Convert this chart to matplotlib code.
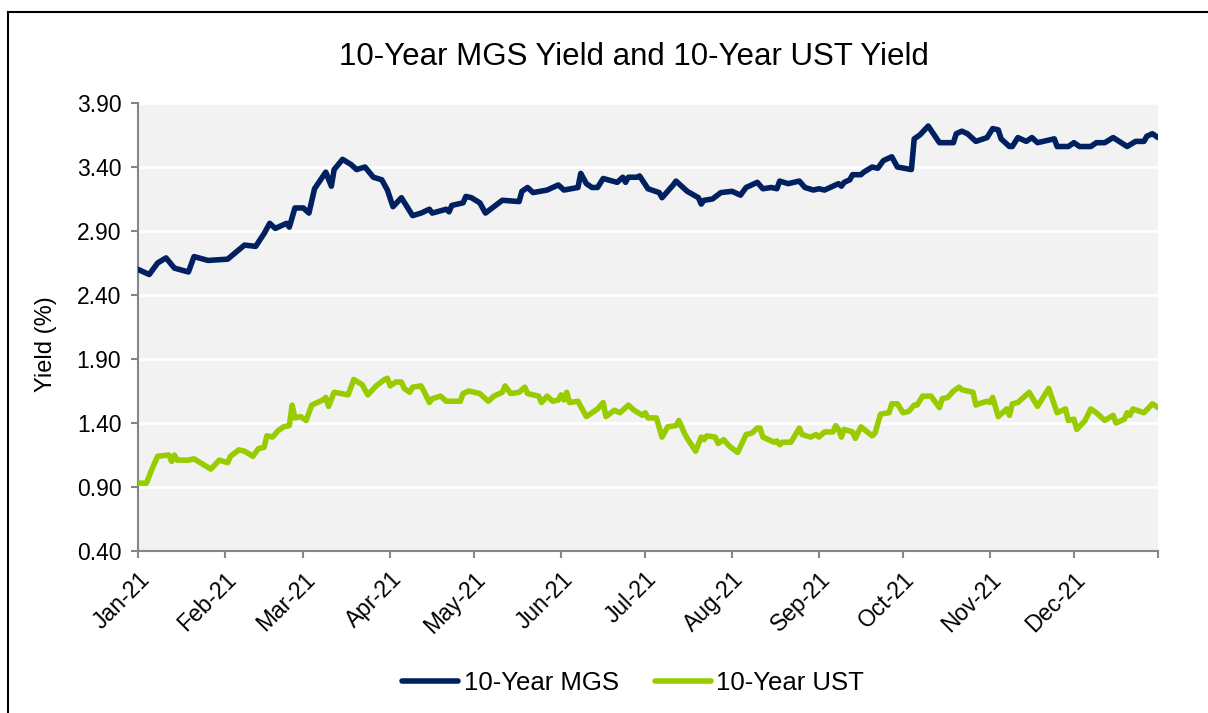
import matplotlib
matplotlib.use('Agg')
import matplotlib.pyplot as plt
import matplotlib.transforms as mtransforms
from matplotlib.lines import Line2D
import pandas as pd

plt.rcParams['font.family'] = ['Liberation Sans', 'DejaVu Sans']

# days since 1 Jan 2021
mgs_day = [0, 4, 7, 10, 13, 18, 20, 25, 32, 38, 42, 45, 47, 49, 53, 54, 56, 59, 61, 63,
           67, 69, 70, 73, 76, 78, 81, 84, 87, 89, 91, 94, 98, 101, 104, 105, 110, 111, 112, 116,
           117, 119, 122, 124, 127, 130, 136, 137, 139, 141, 146, 150, 152, 157, 158, 160, 162, 164, 166, 171,
           173, 174, 175, 178, 179, 182, 186, 187, 191, 192, 193, 196, 200, 201, 202, 205, 208, 212, 215, 217,
           221, 223, 226, 228, 229, 232, 236, 238, 241, 243, 245, 247, 250, 251, 252, 254, 255, 258, 259, 262,
           264, 266, 269, 271, 276, 277, 279, 282, 286, 291, 292, 294, 296, 299, 303, 305, 307, 308, 311, 312,
           314, 317, 319, 321, 327, 328, 332, 334, 336, 340, 342, 345, 348, 353, 356, 359, 360, 362, 364]
mgs_yield = [2.60, 2.56, 2.65, 2.69, 2.61, 2.58, 2.70, 2.67, 2.68, 2.79, 2.78, 2.88, 2.96, 2.92, 2.96, 2.93, 3.08, 3.08, 3.04, 3.23,
             3.36, 3.25, 3.38, 3.46, 3.42, 3.38, 3.40, 3.32, 3.30, 3.22, 3.09, 3.16, 3.02, 3.04, 3.07, 3.04, 3.07, 3.05, 3.10, 3.12,
             3.17, 3.16, 3.12, 3.04, 3.09, 3.14, 3.13, 3.21, 3.24, 3.20, 3.22, 3.26, 3.22, 3.24, 3.35, 3.27, 3.24, 3.24, 3.31, 3.28,
             3.32, 3.28, 3.32, 3.32, 3.33, 3.23, 3.20, 3.16, 3.26, 3.29, 3.27, 3.21, 3.16, 3.11, 3.14, 3.15, 3.20, 3.21, 3.18, 3.24,
             3.28, 3.23, 3.24, 3.23, 3.29, 3.27, 3.29, 3.24, 3.22, 3.23, 3.22, 3.24, 3.27, 3.25, 3.28, 3.30, 3.34, 3.34, 3.36, 3.40,
             3.39, 3.45, 3.48, 3.40, 3.38, 3.62, 3.65, 3.72, 3.59, 3.59, 3.66, 3.68, 3.66, 3.60, 3.63, 3.70, 3.69, 3.62, 3.56, 3.56,
             3.63, 3.60, 3.63, 3.59, 3.62, 3.56, 3.56, 3.59, 3.56, 3.56, 3.59, 3.59, 3.63, 3.56, 3.60, 3.60, 3.64, 3.66, 3.63]

ust_day = [0, 3, 5, 7, 11, 12, 13, 14, 18, 20, 26, 29, 32, 33, 36, 38, 41, 43, 45, 46,
           48, 50, 52, 54, 55, 56, 58, 60, 62, 66, 67, 68, 70, 75, 77, 80, 82, 85, 88, 89,
           90, 92, 94, 95, 97, 98, 101, 102, 104, 105, 108, 110, 115, 116, 118, 122, 125, 127, 130, 131,
           133, 136, 138, 139, 143, 144, 146, 148, 150, 151, 152, 153, 154, 157, 160, 164, 166, 167, 170, 172,
           173, 175, 177, 180, 181, 182, 185, 187, 189, 192, 193, 195, 196, 199, 201, 202, 203, 206, 207, 209,
           211, 214, 217, 219, 221, 222, 223, 227, 228, 229, 230, 233, 236, 237, 240, 242, 243, 245, 248, 249,
           250, 251, 252, 255, 256, 258, 262, 263, 265, 268, 269, 271, 273, 275, 277, 278, 280, 283, 286, 287,
           289, 291, 293, 294, 298, 299, 300, 303, 304, 305, 307, 310, 311, 312, 314, 318, 321, 325, 328, 331,
           332, 334, 335, 338, 340, 342, 345, 348, 349, 352, 353, 354, 355, 359, 362, 364]
ust_yield = [0.93, 0.93, 1.04, 1.14, 1.15, 1.10, 1.15, 1.11, 1.11, 1.12, 1.04, 1.11, 1.09, 1.14, 1.19, 1.18, 1.14, 1.20, 1.21, 1.30,
             1.29, 1.34, 1.37, 1.38, 1.54, 1.44, 1.45, 1.42, 1.54, 1.58, 1.60, 1.53, 1.64, 1.62, 1.74, 1.70, 1.62, 1.69, 1.74, 1.75,
             1.69, 1.72, 1.72, 1.67, 1.64, 1.68, 1.69, 1.65, 1.56, 1.59, 1.61, 1.57, 1.57, 1.63, 1.65, 1.63, 1.57, 1.61, 1.64, 1.69,
             1.63, 1.64, 1.68, 1.63, 1.61, 1.56, 1.61, 1.57, 1.58, 1.62, 1.58, 1.64, 1.56, 1.57, 1.45, 1.51, 1.56, 1.45, 1.50, 1.48,
             1.50, 1.54, 1.50, 1.46, 1.48, 1.44, 1.44, 1.29, 1.37, 1.38, 1.42, 1.32, 1.28, 1.18, 1.29, 1.27, 1.30, 1.29, 1.24, 1.27,
             1.22, 1.17, 1.31, 1.32, 1.36, 1.36, 1.29, 1.25, 1.26, 1.23, 1.25, 1.25, 1.36, 1.31, 1.29, 1.31, 1.29, 1.33, 1.33, 1.38,
             1.35, 1.29, 1.35, 1.33, 1.28, 1.37, 1.30, 1.32, 1.47, 1.48, 1.55, 1.55, 1.48, 1.49, 1.54, 1.54, 1.61, 1.61, 1.52, 1.59,
             1.60, 1.65, 1.68, 1.66, 1.64, 1.54, 1.55, 1.57, 1.56, 1.60, 1.45, 1.51, 1.46, 1.55, 1.56, 1.64, 1.53, 1.67, 1.48, 1.51,
             1.42, 1.43, 1.35, 1.42, 1.51, 1.48, 1.42, 1.46, 1.40, 1.43, 1.48, 1.46, 1.51, 1.48, 1.55, 1.52]

yticks = [0.40, 0.90, 1.40, 1.90, 2.40, 2.90, 3.40, 3.90]

start = pd.Timestamp('2021-01-01')
mgs_dates = start + pd.to_timedelta(mgs_day, unit='D')
ust_dates = start + pd.to_timedelta(ust_day, unit='D')

navy = '#002060'
lime = '#99CC00'
grey = '#868686'

fig = plt.figure(figsize=(12.08, 7.13), dpi=100)
ax = fig.add_axes([138/1208, 1 - 551/713, 1020/1208, 448/713])
ax.set_facecolor('#F2F2F2')

ax.plot(mgs_dates, mgs_yield, color=navy, lw=4, solid_capstyle='round', solid_joinstyle='round', zorder=3)
ax.plot(ust_dates, ust_yield, color=lime, lw=4, solid_capstyle='round', solid_joinstyle='round', zorder=3)

ax.set_ylim(0.40, 3.90)
ax.set_yticks(yticks)
ax.set_yticklabels(['%.2f' % v for v in yticks])
ax.yaxis.grid(True, color='white', lw=2)
ax.set_axisbelow(True)

ax.set_xlim(pd.Timestamp('2021-01-01'), pd.Timestamp('2021-12-31'))
months = pd.date_range('2021-01-01', '2021-12-01', freq='MS')
ax.set_xticks(list(months) + [pd.Timestamp('2021-12-31')])
ax.set_xticklabels([d.strftime('%b-%y') for d in months] + [''])
shift = mtransforms.ScaledTranslation(4/100, 0, fig.dpi_scale_trans)
for lab in ax.get_xticklabels():
    lab.set_rotation(45)
    lab.set_ha('right')
    lab.set_rotation_mode('anchor')
    lab.set_transform(lab.get_transform() + shift)

for s in ['top', 'right']:
    ax.spines[s].set_visible(False)
for s in ['left', 'bottom']:
    ax.spines[s].set_color(grey)
    ax.spines[s].set_linewidth(1.5)
ax.tick_params(axis='both', colors=grey, labelcolor='black', width=1.5, length=5, labelsize=16.5)
ax.tick_params(axis='y', pad=7)
ax.tick_params(axis='x', pad=7)

fig.text(0.5244, 1 - 57/713, '10-Year MGS Yield and 10-Year UST Yield', ha='center', va='center', fontsize=22.5)
fig.text(46/1208, 1 - 344/713, 'Yield (%)', rotation=90, ha='center', va='center', fontsize=17)

handles = [Line2D([], [], color=navy, lw=4, solid_capstyle='round'),
           Line2D([], [], color=lime, lw=4, solid_capstyle='round')]
fig.legend(handles, ['10-Year MGS', '10-Year UST'], loc='center', bbox_to_anchor=(633/1208, 1 - 683/713),
           ncol=2, frameon=False, fontsize=18.5, handlelength=2.2, handletextpad=0.2, columnspacing=1.4)

# outer border (only top and left edges are inside the picture)
fig.add_artist(Line2D([8/1208, 8/1208], [0, 1 - 12/713], color='black', lw=1.5, transform=fig.transFigure))
fig.add_artist(Line2D([8/1208, 1], [1 - 12/713, 1 - 12/713], color='black', lw=1.5, transform=fig.transFigure))

fig.savefig('out.png', dpi=100)
